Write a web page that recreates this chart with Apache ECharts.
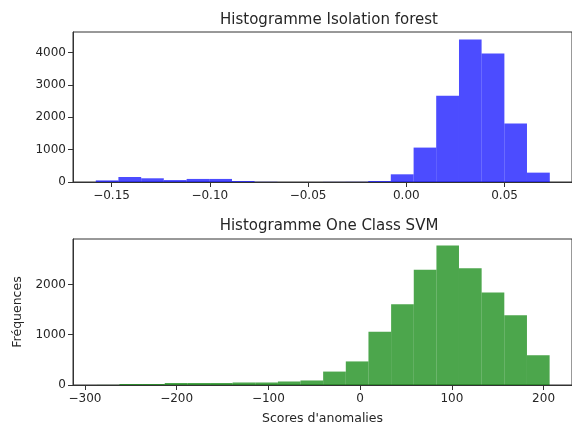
<!DOCTYPE html>
<html>
<head>
<meta charset="utf-8">
<script src="https://cdn.jsdelivr.net/npm/echarts@6/dist/echarts.min.js"></script>
<style>
  html, body { margin: 0; padding: 0; background: #fff; }
  #chart { width: 572px; height: 426px; }
</style>
</head>
<body>
<div id="chart"></div>
<script>
// Isolation forest : bords des classes et effectifs
const ifEdges = [-0.158, -0.1465, -0.1349, -0.1234, -0.1118, -0.1003, -0.0887, -0.0772, -0.0656, -0.0541,
  -0.0425, -0.0310, -0.0194, -0.0079, 0.0037, 0.0152, 0.0268, 0.0383, 0.0499, 0.0614, 0.073]
const ifCounts = [50, 155, 115, 60, 95, 95, 30, 5, 0, 0, 3, 5, 30, 238, 1065, 2667, 4413, 3980, 1809, 290]

// One Class SVM
const svmEdges = [-287, -262.4, -237.7, -213, -188.3, -163.6, -139, -114.3, -89.6, -65, -40.3,
  -15.6, 9.1, 33.8, 58.5, 83.2, 107.8, 132.5, 157.2, 181.9, 206.6]
const svmCounts = [2, 20, 20, 40, 40, 40, 50, 50, 70, 90, 267, 469, 1061, 1608, 2292, 2773, 2324, 1842, 1387, 592]

const toBins = (edges, counts) => counts.map((c, i) => [edges[i], edges[i + 1], c])

const textColor = '#262626'
const font = 'DejaVu Sans'

function renderBar(params, api) {
    const p0 = api.coord([api.value(0), 0])
    const p1 = api.coord([api.value(1), api.value(2)])
    return {
        type: 'rect',
        shape: { x: p0[0], y: p1[1], width: p1[0] - p0[0], height: p0[1] - p1[1] },
        style: api.style()
    }
}

const axisCommon = {
    axisLine: { onZero: false, lineStyle: { color: '#333', width: 1 } },
    axisTick: { show: true, inside: false, length: 5, lineStyle: { color: '#333' } },
    axisLabel: { color: textColor, fontFamily: font, fontSize: 12, showMinLabel: false, showMaxLabel: false },
    splitLine: { show: false }
}
const nameStyle = { color: textColor, fontFamily: font, fontSize: 12.5 }
const titleStyle = { color: textColor, fontFamily: font, fontSize: 15, fontWeight: 'normal' }

const chart = echarts.init(document.getElementById('chart'))
chart.setOption({
    animation: false,
    backgroundColor: '#fff',
    title: [
        { text: 'Histogramme Isolation forest', left: 324, top: 8, textAlign: 'center', textStyle: titleStyle },
        { text: 'Histogramme One Class SVM', left: 324, top: 214, textAlign: 'center', textStyle: titleStyle }
    ],
    grid: [
        { left: 73, top: 32, width: 502, height: 150, show: true, borderColor: '#333', borderWidth: 1 },
        { left: 73, top: 239, width: 502, height: 149, show: true, borderColor: '#333', borderWidth: 1 }
    ],
    xAxis: [
        Object.assign({}, axisCommon, { type: 'value', gridIndex: 0, min: -0.1696, max: 0.0843, splitNumber: 5,
            axisLabel: Object.assign({}, axisCommon.axisLabel, { margin: 8,
                formatter: v => (v < 0 ? '\u2212' : '') + Math.abs(v).toFixed(2) }) }),
        Object.assign({}, axisCommon, { type: 'value', gridIndex: 1, min: -313, max: 231, splitNumber: 5,
            name: "Scores d'anomalies", nameLocation: 'middle', nameGap: 27, nameTextStyle: nameStyle,
            axisLabel: Object.assign({}, axisCommon.axisLabel, { margin: 8,
                formatter: v => (v < 0 ? '\u2212' : '') + Math.abs(v) }) })
    ],
    yAxis: [
        Object.assign({}, axisCommon, { type: 'value', gridIndex: 0, min: 0, max: 4642, interval: 1000,
            axisLabel: Object.assign({}, axisCommon.axisLabel, { showMinLabel: true, margin: 7,
                formatter: v => String(v) }) }),
        Object.assign({}, axisCommon, { type: 'value', gridIndex: 1, min: 0, max: 2904, interval: 1000,
            name: 'Fréquences', nameLocation: 'middle', nameGap: 47, nameRotate: 90, nameTextStyle: nameStyle,
            axisLabel: Object.assign({}, axisCommon.axisLabel, { showMinLabel: true, margin: 7,
                formatter: v => String(v) }) })
    ],
    series: [
        { type: 'custom', xAxisIndex: 0, yAxisIndex: 0, renderItem: renderBar,
          itemStyle: { color: 'rgba(0,0,255,0.7)' },
          encode: { x: [0, 1], y: 2 }, data: toBins(ifEdges, ifCounts) },
        { type: 'custom', xAxisIndex: 1, yAxisIndex: 1, renderItem: renderBar,
          itemStyle: { color: 'rgba(0,128,0,0.7)' },
          encode: { x: [0, 1], y: 2 }, data: toBins(svmEdges, svmCounts) }
    ]
})
</script>
</body>
</html>
